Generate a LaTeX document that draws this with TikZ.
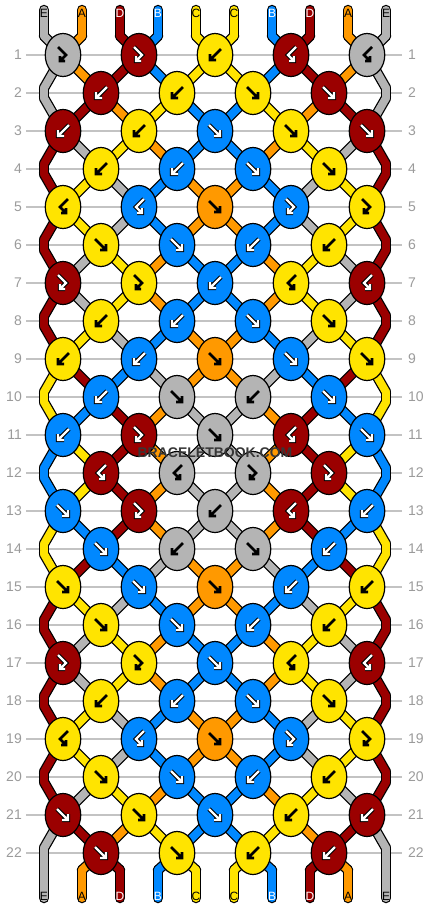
\documentclass[tikz,border=0pt]{standalone}
\usepackage{fontspec}
\setmainfont{Liberation Sans}
\usetikzlibrary{shapes.geometric}
\pgfdeclarelayer{bg}
\pgfsetlayers{bg,main}

\definecolor{strE}{RGB}{180,180,180}
\definecolor{strA}{RGB}{255,153,0}
\definecolor{strD}{RGB}{155,0,0}
\definecolor{strB}{RGB}{0,136,255}
\definecolor{strC}{RGB}{255,228,0}
\definecolor{rowgrey}{RGB}{155,155,155}
\definecolor{linegrey}{RGB}{195,195,195}
\definecolor{wmark}{RGB}{55,55,55}
\colorlet{labE}{black}
\colorlet{labA}{black}
\colorlet{labC}{black}
\colorlet{labD}{white}
\colorlet{labB}{white}

% string order after each row (row 0 = top)
\expandafter\def\csname st0\endcsname{E,A,D,B,C,C,B,D,A,E}
\expandafter\def\csname st1\endcsname{E,A,D,B,C,C,B,D,A,E}
\expandafter\def\csname st2\endcsname{E,D,A,C,B,B,C,A,D,E}
\expandafter\def\csname st3\endcsname{D,E,C,A,B,B,A,C,E,D}
\expandafter\def\csname st4\endcsname{D,C,E,B,A,A,B,E,C,D}
\expandafter\def\csname st5\endcsname{D,C,E,B,A,A,B,E,C,D}
\expandafter\def\csname st6\endcsname{D,E,C,A,B,B,A,C,E,D}
\expandafter\def\csname st7\endcsname{D,E,C,A,B,B,A,C,E,D}
\expandafter\def\csname st8\endcsname{D,C,E,B,A,A,B,E,C,D}
\expandafter\def\csname st9\endcsname{C,D,B,E,A,A,E,B,D,C}
\expandafter\def\csname st10\endcsname{C,B,D,A,E,E,A,D,B,C}
\expandafter\def\csname st11\endcsname{B,C,D,A,E,E,A,D,C,B}
\expandafter\def\csname st12\endcsname{B,C,D,A,E,E,A,D,C,B}
\expandafter\def\csname st13\endcsname{C,B,D,A,E,E,A,D,B,C}
\expandafter\def\csname st14\endcsname{C,D,B,E,A,A,E,B,D,C}
\expandafter\def\csname st15\endcsname{D,C,E,B,A,A,B,E,C,D}
\expandafter\def\csname st16\endcsname{D,E,C,A,B,B,A,C,E,D}
\expandafter\def\csname st17\endcsname{D,E,C,A,B,B,A,C,E,D}
\expandafter\def\csname st18\endcsname{D,C,E,B,A,A,B,E,C,D}
\expandafter\def\csname st19\endcsname{D,C,E,B,A,A,B,E,C,D}
\expandafter\def\csname st20\endcsname{D,E,C,A,B,B,A,C,E,D}
\expandafter\def\csname st21\endcsname{E,D,A,C,B,B,C,A,D,E}
\expandafter\def\csname st22\endcsname{E,A,D,B,C,C,B,D,A,E}

% knots per row: colour / type
\expandafter\def\csname kn1\endcsname{E/fb,D/fb,C/b,D/bf,E/bf}
\expandafter\def\csname kn2\endcsname{D/b,C/b,C/f,D/f}
\expandafter\def\csname kn3\endcsname{D/b,C/b,B/f,C/f,D/f}
\expandafter\def\csname kn4\endcsname{C/b,B/b,B/f,C/f}
\expandafter\def\csname kn5\endcsname{C/bf,B/bf,A/f,B/fb,C/fb}
\expandafter\def\csname kn6\endcsname{C/f,B/f,B/b,C/b}
\expandafter\def\csname kn7\endcsname{D/fb,C/fb,B/b,C/bf,D/bf}
\expandafter\def\csname kn8\endcsname{C/b,B/b,B/f,C/f}
\expandafter\def\csname kn9\endcsname{C/b,B/b,A/f,B/f,C/f}
\expandafter\def\csname kn10\endcsname{B/b,E/f,E/b,B/f}
\expandafter\def\csname kn11\endcsname{B/b,D/fb,E/f,D/bf,B/f}
\expandafter\def\csname kn12\endcsname{D/bf,E/bf,E/fb,D/fb}
\expandafter\def\csname kn13\endcsname{B/f,D/fb,E/b,D/bf,B/b}
\expandafter\def\csname kn14\endcsname{B/f,E/b,E/f,B/b}
\expandafter\def\csname kn15\endcsname{C/f,B/f,A/f,B/b,C/b}
\expandafter\def\csname kn16\endcsname{C/f,B/f,B/b,C/b}
\expandafter\def\csname kn17\endcsname{D/fb,C/fb,B/f,C/bf,D/bf}
\expandafter\def\csname kn18\endcsname{C/b,B/b,B/f,C/f}
\expandafter\def\csname kn19\endcsname{C/bf,B/bf,A/f,B/fb,C/fb}
\expandafter\def\csname kn20\endcsname{C/f,B/f,B/b,C/b}
\expandafter\def\csname kn21\endcsname{D/f,C/f,B/f,C/b,D/b}
\expandafter\def\csname kn22\endcsname{D/f,C/f,C/b,D/b}

% name of the point of string position #2 at row #1 (#3 = a: incoming, b: outgoing at edges)
\newcommand\setpn[3]{%
  \ifnum#1=0\relax
    \edef\pn{tb-#2}%
  \else\ifnum#1=23\relax
    \edef\pn{bb-#2}%
  \else\ifodd#1\relax
    \pgfmathtruncatemacro\kk{int(#2/2)}%
    \edef\pn{k-#1-\kk}%
  \else\ifnum#2=0\relax
    \edef\pn{eL#3-#1}%
  \else\ifnum#2=9\relax
    \edef\pn{eR#3-#1}%
  \else
    \pgfmathtruncatemacro\kk{int((#2-1)/2)}%
    \edef\pn{k-#1-\kk}%
  \fi\fi\fi\fi\fi}

\newcommand\stringpass[1]{%
  \foreach \rr in {0,...,22} {%
    \edef\st{\csname st\rr\endcsname}%
    \pgfmathtruncatemacro\rn{\rr+1}%
    \foreach \cl [count=\pp from 0] in \st {%
      \setpn{\rr}{\pp}{b}\let\pA\pn
      \setpn{\rn}{\pp}{a}\let\pB\pn
      \draw[strpass-#1] (\pA.center) -- (\pB.center);
      \ifnum\rr=0\relax \draw[strpass-#1] (t-\pp) -- (tb-\pp);\fi
      \ifnum\rr=22\relax \draw[strpass-#1] (bb-\pp) -- (b-\pp);\fi
      \ifodd\rr\relax\else\ifnum\rr>0\relax
        \ifnum\pp=0\relax \draw[strpass-#1] (eLa-\rr) -- (eLb-\rr);\fi
        \ifnum\pp=9\relax \draw[strpass-#1] (eRa-\rr) -- (eRb-\rr);\fi
      \fi\fi
    }%
  }%
}

\tikzset{
  knot/.style={ellipse, draw=black, line width=1.2pt, minimum width=35.5pt,
    minimum height=43pt, inner sep=0pt, outer sep=0pt},
  rowline/.style={draw=linegrey, line width=1.2pt},
  rowlab/.style={text=rowgrey, font=\fontsize{14}{14}\selectfont, inner sep=0pt},
  strlab/.style={font=\fontsize{12}{12}\selectfont, inner sep=0pt},
  strpass-out/.style={draw=black, line width=10.5pt, line cap=round, line join=round},
  strpass-in/.style={draw=str\cl, line width=8pt, line cap=round, line join=round},
  arrK/.style={draw=black, line width=2.8pt, line cap=butt, line join=miter},
  arrW/.style={draw=white, line width=2.3pt, line cap=butt, line join=miter,
    preaction={draw=black, line width=4.3pt}},
  arrsty-E/.style={arrK}, arrsty-A/.style={arrK}, arrsty-C/.style={arrK},
  arrsty-D/.style={arrW}, arrsty-B/.style={arrW},
  arrf/.pic={\path[arrowline] (-6,-6) -- (5,5) (-1,5) -- (5,5) -- (5,-1);},
  arrb/.pic={\path[arrowline] (6,-6) -- (-5,5) (1,5) -- (-5,5) -- (-5,-1);},
  arrfb/.pic={\path[arrowline] (-5,-8) -- (3,0) -- (-3,6) (-3,1) -- (-3,6) -- (2,6);},
  arrbf/.pic={\path[arrowline] (5,-8) -- (-3,0) -- (3,6) (3,1) -- (3,6) -- (-2,6);},
  wm/.style={text=wmark, font=\bfseries\fontsize{14}{14}\selectfont, inner sep=0pt},
}

\begin{document}
\begin{tikzpicture}[x=1pt,y=-1pt]
\useasboundingbox (0,0) rectangle (430,908);

% fixed points of the strings
\foreach \pp in {0,...,9} {
  \pgfmathsetmacro\xx{44+38*\pp}
  \coordinate (t-\pp) at (\xx,10);
  \coordinate (tb-\pp) at (\xx,36);
  \coordinate (bb-\pp) at (\xx,870);
  \coordinate (b-\pp) at (\xx,898);
}
\foreach \rr in {2,4,...,22} {
  \pgfmathsetmacro\yy{55+38*(\rr-1)}
  \coordinate (eLa-\rr) at (44,\yy-5);
  \coordinate (eLb-\rr) at (44,\yy+5);
  \coordinate (eRa-\rr) at (386,\yy-5);
  \coordinate (eRb-\rr) at (386,\yy+5);
}

% knots
\foreach \rr in {1,...,22} {%
  \pgfmathsetmacro\yy{55+38*(\rr-1)}%
  \ifodd\rr\relax\def\xo{63}\else\def\xo{101}\fi
  \edef\kl{\csname kn\rr\endcsname}%
  \foreach \cl/\ty [count=\ii from 0] in \kl {%
    \node[knot, fill=str\cl] (k-\rr-\ii) at ({\xo+76*\ii},\yy) {};
    \tikzset{arrowline/.style/.expanded={arrsty-\cl}}%
    \pic at (k-\rr-\ii.center) {arr\ty};
  }%
}

% string end labels
\foreach \cl [count=\pp from 0] in {E,A,D,B,C,C,B,D,A,E} {
  \node[strlab, text=lab\cl] (lt-\pp) at (44+38*\pp,13) {\cl};
  \node[strlab, text=lab\cl] (lb-\pp) at (44+38*\pp,896) {\cl};
}

\node[wm] (wmark) at (215,453) {BRACELETBOOK.COM};

\begin{pgfonlayer}{bg}
  \fill[white] (0,0) rectangle (430,908);
  \foreach \rr in {1,...,22} {
    \pgfmathsetmacro\yy{55+38*(\rr-1)}
    \coordinate (rl-\rr) at (26,\yy);
    \coordinate (rr-\rr) at (402,\yy);
    \draw[rowline] (rl-\rr) -- (rr-\rr);
    \node[rowlab, anchor=east] (nl-\rr) at (22,\yy) {\rr};
    \node[rowlab, anchor=west] (nr-\rr) at (408,\yy) {\rr};
  }
  \stringpass{out}
  \stringpass{in}
\end{pgfonlayer}
\end{tikzpicture}
\end{document}
